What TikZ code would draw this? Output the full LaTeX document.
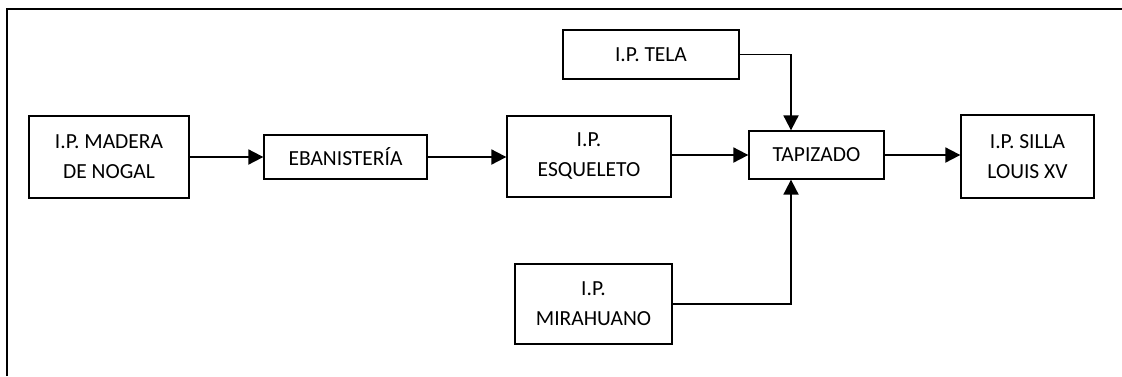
\documentclass[tikz,border=0pt]{standalone}
\usepackage{fontspec}
\setmainfont{Carlito}
\usepackage{tikz}
\usetikzlibrary{arrows.meta, positioning, calc}

\tikzset{
    ipbox/.style={draw, line width=1.3pt, align=center, inner sep=0pt,
        font=\fontsize{21.5}{30}\selectfont},
    flow/.style={line width=1.9pt, -{Triangle[length=15pt,width=15pt]}}
}

\begin{document}
\begin{tikzpicture}[x=1pt,y=-1pt]
\useasboundingbox (0,0) rectangle (1122,376);
% frame, only left and top edges show
\draw[line width=2pt] (7,376) -- (7,9) -- (1122,9);
% boxes
\node[ipbox, minimum width=160pt, minimum height=82pt] (madera) at (109,157) {I.P. MADERA\\DE NOGAL};
\node[ipbox, minimum width=163pt, minimum height=44pt] (eban) at (345.5,157) {EBANISTERÍA};
\node[ipbox, minimum width=164pt, minimum height=81pt] (esq) at (589,156.5) {I.P.\\ESQUELETO};
\node[ipbox, minimum width=176pt, minimum height=49pt] (tela) at (651,54.5) {I.P. TELA};
\node[ipbox, minimum width=157pt, minimum height=80pt] (mira) at (593.5,304) {I.P.\\MIRAHUANO};
\node[ipbox, minimum width=135pt, minimum height=48pt] (tap) at (816.5,155) {TAPIZADO};
\node[ipbox, minimum width=133pt, minimum height=83pt] (silla) at (1027.5,156.5) {I.P. SILLA\\LOUIS XV};
% connectors
\draw[flow] (madera.east |- eban.west) -- (eban.west);
\draw[flow] (eban.east) -- (esq.west |- eban.east);
\draw[flow] (esq.east |- tap.west) -- (tap.west);
\draw[flow] (tap.east) -- (silla.west |- tap.east);
\draw[flow] (tela.east) -| ([xshift=-25.5pt]tap.north);
\draw[flow] (mira.east) -| ([xshift=-25.5pt]tap.south);
\end{tikzpicture}
\end{document}
